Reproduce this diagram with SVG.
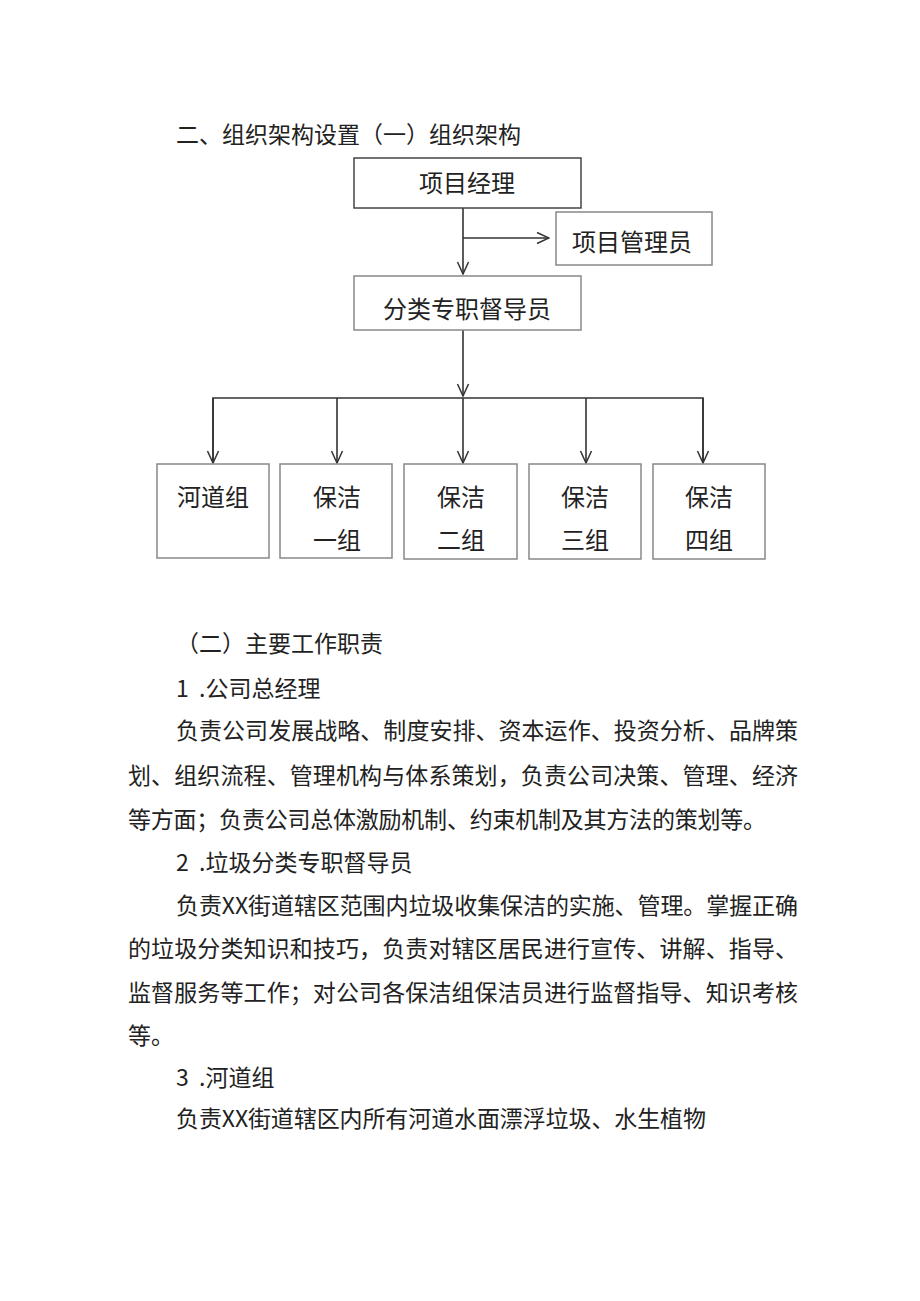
<svg xmlns="http://www.w3.org/2000/svg" width="920" height="1301" viewBox="0 0 920 1301">
<defs>
<marker id="arr" viewBox="0 0 14 14" refX="13" refY="7" markerWidth="14" markerHeight="14" markerUnits="userSpaceOnUse" orient="auto">
<path d="M1,1.5 L13,7 L1,12.5" fill="none" stroke="#333" stroke-width="1.5"/>
</marker>
<style>
text{font-family:"Noto Sans CJK SC","Liberation Sans",sans-serif;font-size:23px;fill:#222;}
.c{text-anchor:middle;font-size:24px;}
.box{fill:#fff;stroke:#888;stroke-width:1.5;}
.dark{stroke:#444;}
.ln{fill:none;stroke:#333;stroke-width:1.6;}
</style>
</defs>
<rect width="920" height="1301" fill="#fff"/>
<text x="176" y="143">二、组织架构设置（一）组织架构</text>
<g id="connectors">
<line class="ln" x1="463" y1="208" x2="463" y2="274" marker-end="url(#arr)"/>
<line class="ln" x1="463" y1="238" x2="549" y2="238" marker-end="url(#arr)"/>
<line class="ln" x1="463" y1="330" x2="463" y2="396" marker-end="url(#arr)"/>
<polyline class="ln" points="213,462 213,398 703,398 703,462"/>
<line class="ln" x1="213" y1="398" x2="213" y2="463" marker-end="url(#arr)"/>
<line class="ln" x1="337" y1="398" x2="337" y2="463" marker-end="url(#arr)"/>
<line class="ln" x1="463" y1="398" x2="463" y2="463" marker-end="url(#arr)"/>
<line class="ln" x1="586" y1="398" x2="586" y2="463" marker-end="url(#arr)"/>
<line class="ln" x1="703" y1="398" x2="703" y2="463" marker-end="url(#arr)"/>
</g>
<g id="n-pm"><rect class="box dark" x="354" y="158" width="227" height="50"/><text class="c" x="467" y="192">项目经理</text></g>
<g id="n-admin"><rect class="box" x="556" y="212" width="156" height="53"/><text class="c" x="632" y="251">项目管理员</text></g>
<g id="n-sup"><rect class="box" x="354" y="276" width="227" height="54"/><text class="c" x="467" y="318">分类专职督导员</text></g>
<g id="n-river"><rect class="box" x="157" y="464" width="112" height="94"/><text class="c" x="213" y="506">河道组</text></g>
<g id="n-c1"><rect class="box" x="280" y="464" width="112" height="94"/><text class="c" x="337" y="506">保洁</text><text class="c" x="337" y="549">一组</text></g>
<g id="n-c2"><rect class="box" x="404" y="464" width="113" height="95"/><text class="c" x="461" y="506">保洁</text><text class="c" x="461" y="549">二组</text></g>
<g id="n-c3"><rect class="box" x="529" y="464" width="112" height="95"/><text class="c" x="585" y="506">保洁</text><text class="c" x="585" y="549">三组</text></g>
<g id="n-c4"><rect class="box" x="653" y="464" width="112" height="95"/><text class="c" x="709" y="506">保洁</text><text class="c" x="709" y="549">四组</text></g>
<g id="body">
<text x="176" y="652">（二）主要工作职责</text>
<text x="176" y="697" xml:space="preserve">1  .公司总经理</text>
<text x="176" y="739" textLength="622" lengthAdjust="spacing">负责公司发展战略、制度安排、资本运作、投资分析、品牌策</text>
<text x="128" y="784" textLength="670" lengthAdjust="spacing">划、组织流程、管理机构与体系策划，负责公司决策、管理、经济</text>
<text x="128" y="828" textLength="638" lengthAdjust="spacing">等方面；负责公司总体激励机制、约束机制及其方法的策划等。</text>
<text x="176" y="871" xml:space="preserve">2  .垃圾分类专职督导员</text>
<text x="176" y="914" textLength="622" lengthAdjust="spacing">负责XX街道辖区范围内垃圾收集保洁的实施、管理。掌握正确</text>
<text x="128" y="957" textLength="670" lengthAdjust="spacing">的垃圾分类知识和技巧，负责对辖区居民进行宣传、讲解、指导、</text>
<text x="128" y="1001" textLength="670" lengthAdjust="spacing">监督服务等工作；对公司各保洁组保洁员进行监督指导、知识考核</text>
<text x="128" y="1044">等。</text>
<text x="176" y="1086" xml:space="preserve">3  .河道组</text>
<text x="176" y="1127" textLength="530" lengthAdjust="spacing">负责XX街道辖区内所有河道水面漂浮垃圾、水生植物</text>
</g>
</svg>
